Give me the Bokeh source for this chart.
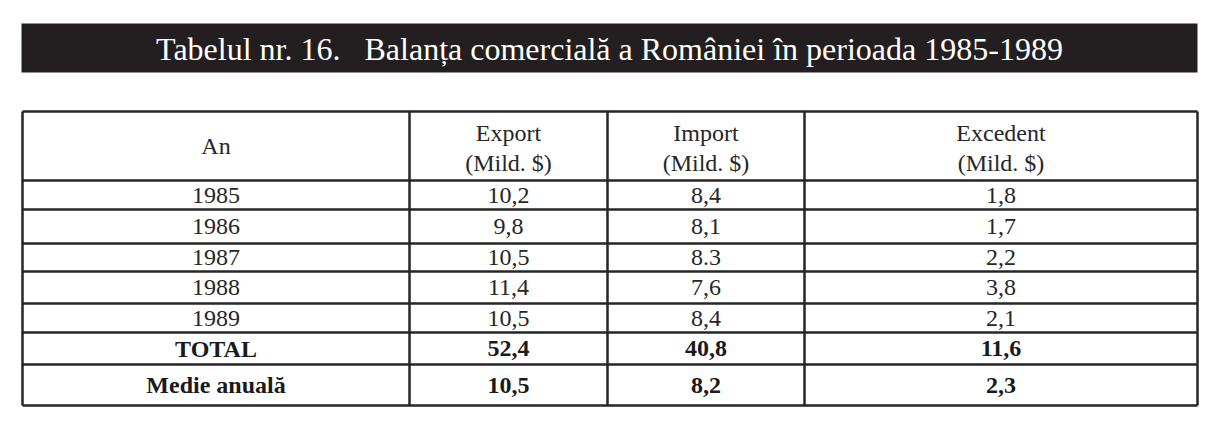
from bokeh.plotting import figure
from bokeh.models import Range1d
from bokeh.core.properties import value
from bokeh.embed import file_html
from bokeh.resources import INLINE

title_text = "Tabelul nr. 16.\u00a0\u00a0\u00a0Balanța comercială a României în perioada 1985-1989"
header_top = ["An", "Export", "Import", "Excedent"]
header_unit = ["", "(Mild. $)", "(Mild. $)", "(Mild. $)"]
years = ["1985", "1986", "1987", "1988", "1989"]
export = ["10,2", "9,8", "10,5", "11,4", "10,5"]
imports = ["8,4", "8,1", "8.3", "7,6", "8,4"]
excedent = ["1,8", "1,7", "2,2", "3,8", "2,1"]
summary_labels = ["TOTAL", "Medie anuală"]
summary_export = ["52,4", "10,5"]
summary_import = ["40,8", "8,2"]
summary_excedent = ["11,6", "2,3"]

# layout (picture pixel coordinates)
W, H = 1208, 429
col_edges = [22, 409, 607, 804, 1197]
row_edges = [111, 180, 209, 243, 271, 303, 332, 364, 405]
bar = (21, 23, 1197, 72)

p = figure(width=W, height=H, output_backend="svg", toolbar_location=None,
           x_range=Range1d(0, W), y_range=Range1d(H, 0),
           min_border=0, outline_line_color=None, background_fill_color="white",
           border_fill_color="white")
p.axis.visible = False
p.grid.visible = False

font = value("Times New Roman")
ink = "#262626"

# title bar
p.quad(left=[bar[0]], right=[bar[2]], top=[bar[1]], bottom=[bar[3]],
       fill_color="#231f20", line_color=None)
p.text(x=[(bar[0] + bar[2]) / 2], y=[(bar[1] + bar[3]) / 2 + 1], text=[title_text],
       text_font=font, text_font_size="32px", text_color="white",
       text_align="center", text_baseline="middle")

# grid lines
for yv in row_edges:
    p.line([col_edges[0], col_edges[-1]], [yv, yv], line_color=ink, line_width=2.5)
for xv in col_edges:
    p.line([xv, xv], [row_edges[0], row_edges[-1]], line_color=ink, line_width=2.5)

cx = [(col_edges[i] + col_edges[i + 1]) / 2 for i in range(4)]
fs = "24px"

# header
hy0, hy1 = row_edges[0], row_edges[1]
p.text(x=[cx[0]], y=[(hy0 + hy1) / 2], text=[header_top[0]], text_font=font,
       text_font_size=fs, text_color=ink, text_align="center", text_baseline="middle")
p.text(x=cx[1:], y=[hy0 + 21] * 3, text=header_top[1:], text_font=font,
       text_font_size=fs, text_color=ink, text_align="center", text_baseline="middle")
p.text(x=cx[1:], y=[hy0 + 51] * 3, text=header_unit[1:], text_font=font,
       text_font_size=fs, text_color=ink, text_align="center", text_baseline="middle")

# data rows
cols = [years, export, imports, excedent]
for i in range(len(years)):
    yc = (row_edges[i + 1] + row_edges[i + 2]) / 2
    p.text(x=cx, y=[yc] * 4, text=[c[i] for c in cols], text_font=font,
           text_font_size=fs, text_color=ink, text_align="center", text_baseline="middle")

scols = [summary_labels, summary_export, summary_import, summary_excedent]
for j in range(len(summary_labels)):
    k = len(years) + 1 + j
    yc = (row_edges[k] + row_edges[k + 1]) / 2
    p.text(x=cx, y=[yc] * 4, text=[c[j] for c in scols], text_font=font,
           text_font_size=fs, text_font_style="bold", text_color="#1a1a1a",
           text_align="center", text_baseline="middle")

open("out.html", "w").write(file_html(p, INLINE))
